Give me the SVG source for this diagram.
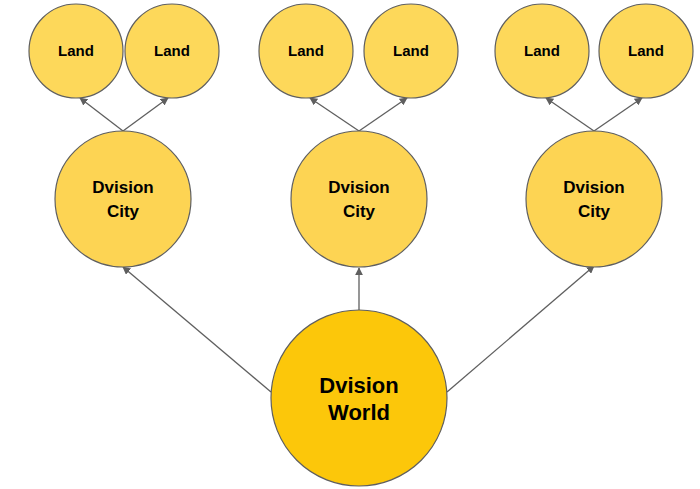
<svg xmlns="http://www.w3.org/2000/svg" width="700" height="489" viewBox="0 0 700 489">
<defs>
<style>
circle{stroke:#5f5f5f;stroke-width:1.2}
.land{fill:#fdd85a}
.city{fill:#fdd453}
.world{fill:#fcc70a}
text{font-family:"Liberation Sans",Arial,sans-serif;font-weight:bold;fill:#000;text-anchor:middle}
.t1{font-size:15px}.t2{font-size:17px}.t3{font-size:22px}
#conn line{stroke:#5f5f5f;stroke-width:1.3;marker-end:url(#ah)}
</style>
<marker id="ah" viewBox="0 0 10 10" refX="9" refY="5" markerWidth="8" markerHeight="8" orient="auto" markerUnits="userSpaceOnUse"><path d="M0,0L10,5L0,10z" fill="#5f5f5f"/></marker>
</defs>
<rect width="700" height="489" fill="#fff"/>
<g id="conn">
<line x1="271" y1="392" x2="123" y2="267"/>
<line x1="359" y1="310" x2="359" y2="268"/>
<line x1="447" y1="392" x2="594" y2="266"/>
<line x1="123" y1="131" x2="80" y2="98"/>
<line x1="123" y1="131" x2="168" y2="98"/>
<line x1="359" y1="131" x2="310" y2="98"/>
<line x1="359" y1="131" x2="407" y2="98"/>
<line x1="594" y1="131" x2="546" y2="98"/>
<line x1="594" y1="131" x2="642" y2="98"/>
</g>
<g id="world"><circle class="world" cx="359" cy="398" r="88"/><text class="t3" x="359" y="393">Dvision</text><text class="t3" x="359" y="420">World</text></g>
<g id="city1"><circle class="city" cx="123" cy="199" r="68"/><text class="t2" x="123" y="193">Dvision</text><text class="t2" x="123" y="217">City</text></g>
<g id="city2"><circle class="city" cx="359" cy="199" r="68"/><text class="t2" x="359" y="193">Dvision</text><text class="t2" x="359" y="217">City</text></g>
<g id="city3"><circle class="city" cx="594" cy="199" r="68"/><text class="t2" x="594" y="193">Dvision</text><text class="t2" x="594" y="217">City</text></g>
<g id="land1"><circle class="land" cx="76" cy="51" r="47"/><text class="t1" x="76" y="56">Land</text></g>
<g id="land2"><circle class="land" cx="172" cy="51" r="47"/><text class="t1" x="172" y="56">Land</text></g>
<g id="land3"><circle class="land" cx="306" cy="51" r="47"/><text class="t1" x="306" y="56">Land</text></g>
<g id="land4"><circle class="land" cx="411" cy="51" r="47"/><text class="t1" x="411" y="56">Land</text></g>
<g id="land5"><circle class="land" cx="542" cy="51" r="47"/><text class="t1" x="542" y="56">Land</text></g>
<g id="land6"><circle class="land" cx="646" cy="51" r="47"/><text class="t1" x="646" y="56">Land</text></g>
</svg>
